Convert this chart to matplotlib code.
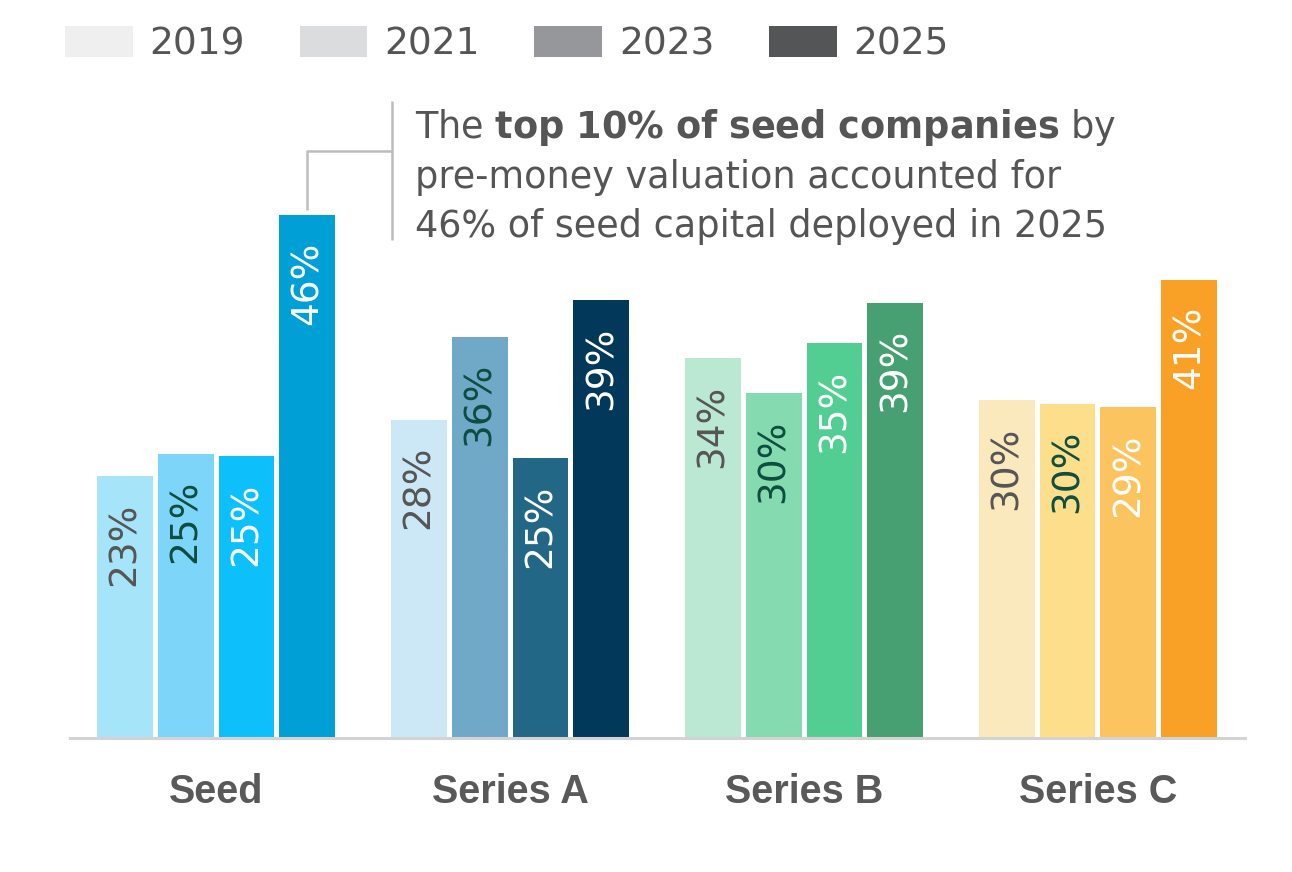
import numpy as np
import matplotlib
matplotlib.use('Agg')
import matplotlib.pyplot as plt
from matplotlib.patches import Patch

# Data (share of capital deployed to the top 10% of companies)
stages = ['Seed', 'Series A', 'Series B', 'Series C']
years = ['2019', '2021', '2023', '2025']
seed = [23.0, 25.0, 24.8, 46.0]
series_a = [28.0, 35.3, 24.6, 38.5]
series_b = [33.4, 30.3, 34.7, 38.3]
series_c = [29.7, 29.4, 29.1, 40.3]
seed_labels = ['23%', '25%', '25%', '46%']
series_a_labels = ['28%', '36%', '25%', '39%']
series_b_labels = ['34%', '30%', '35%', '39%']
series_c_labels = ['30%', '30%', '29%', '41%']

values = [seed, series_a, series_b, series_c]
labels = [seed_labels, series_a_labels, series_b_labels, series_c_labels]

# Colours per stage, light -> dark
stage_colors = [
    ['#A6E4FA', '#7DD6F9', '#0DC0FB', '#00A0D6'],
    ['#CCE7F5', '#70A9C8', '#226886', '#02385A'],
    ['#BBE8D2', '#85DBAF', '#52CE92', '#47A072'],
    ['#FBE9BE', '#FDDF8B', '#FCC45E', '#F9A027'],
]
legend_colors = ['#EFEFEF', '#DADCDE', '#96979A', '#545557']
label_colors = ['#555555', '#0D4D40', 'white', 'white']

TEXT = '#555555'
GRID = '#D3D3D3'

fig = plt.figure(figsize=(12.92, 8.72), dpi=100)
ax = fig.add_axes([0.0542, 0.1537, 0.9094, 0.6519])

width = 0.19
step = 0.207
x = np.arange(len(stages))

for i, stage_vals in enumerate(values):
    for j, v in enumerate(stage_vals):
        xpos = x[i] + (j - 1.5) * step
        ax.bar(xpos, v, width=width, color=stage_colors[i][j], linewidth=0)
        ax.text(xpos, v - 2.3, labels[i][j], rotation=90, ha='center', va='top',
                fontsize=27, color=label_colors[j], family='DejaVu Sans')

ax.set_xlim(-0.497, 3.5)
ax.set_ylim(0, 50)
ax.set_yticks([])
ax.set_xticks(x)
ax.set_xticklabels(stages, fontsize=28.5, fontweight='bold', color='#595959',
                   family='Liberation Sans')
ax.tick_params(axis='x', length=0, pad=25)
for s in ['top', 'right', 'left']:
    ax.spines[s].set_visible(False)
ax.spines['bottom'].set_color(GRID)
ax.spines['bottom'].set_linewidth(2.2)

# Connector from the 2025 seed bar to the note
bx = x[0] + 1.5 * step
lx = 0.599
line_kw = dict(color='#BDBDBD', lw=1.8, clip_on=False, solid_capstyle='butt')
ax.plot([bx, bx, lx], [46.4, 51.6, 51.6], **line_kw)
ax.plot([lx, lx], [43.8, 56.0], **line_kw)

note_x = 415 / 1292
note_fs = 26.4
fig.text(note_x, 1 - 138 / 872, r'The $\bf{top\ 10\%\ of\ seed\ companies}$ by',
         fontsize=note_fs, color=TEXT, va='baseline')
fig.text(note_x, 1 - 188 / 872, 'pre-money valuation accounted for',
         fontsize=note_fs, color=TEXT, va='baseline')
fig.text(note_x, 1 - 237 / 872, '46% of seed capital deployed in 2025',
         fontsize=note_fs, color=TEXT, va='baseline')

# Legend
handles = [Patch(facecolor=c, edgecolor='none') for c in legend_colors]
leg = fig.legend(handles, years, loc='upper left', bbox_to_anchor=(0.0503, 0.970),
                 ncol=4, frameon=False, fontsize=27, handlelength=1.81,
                 handleheight=0.88, handletextpad=0.45, columnspacing=1.45,
                 borderpad=0, borderaxespad=0)
for t in leg.get_texts():
    t.set_color(TEXT)

fig.savefig('out.png', dpi=100, facecolor='white')
